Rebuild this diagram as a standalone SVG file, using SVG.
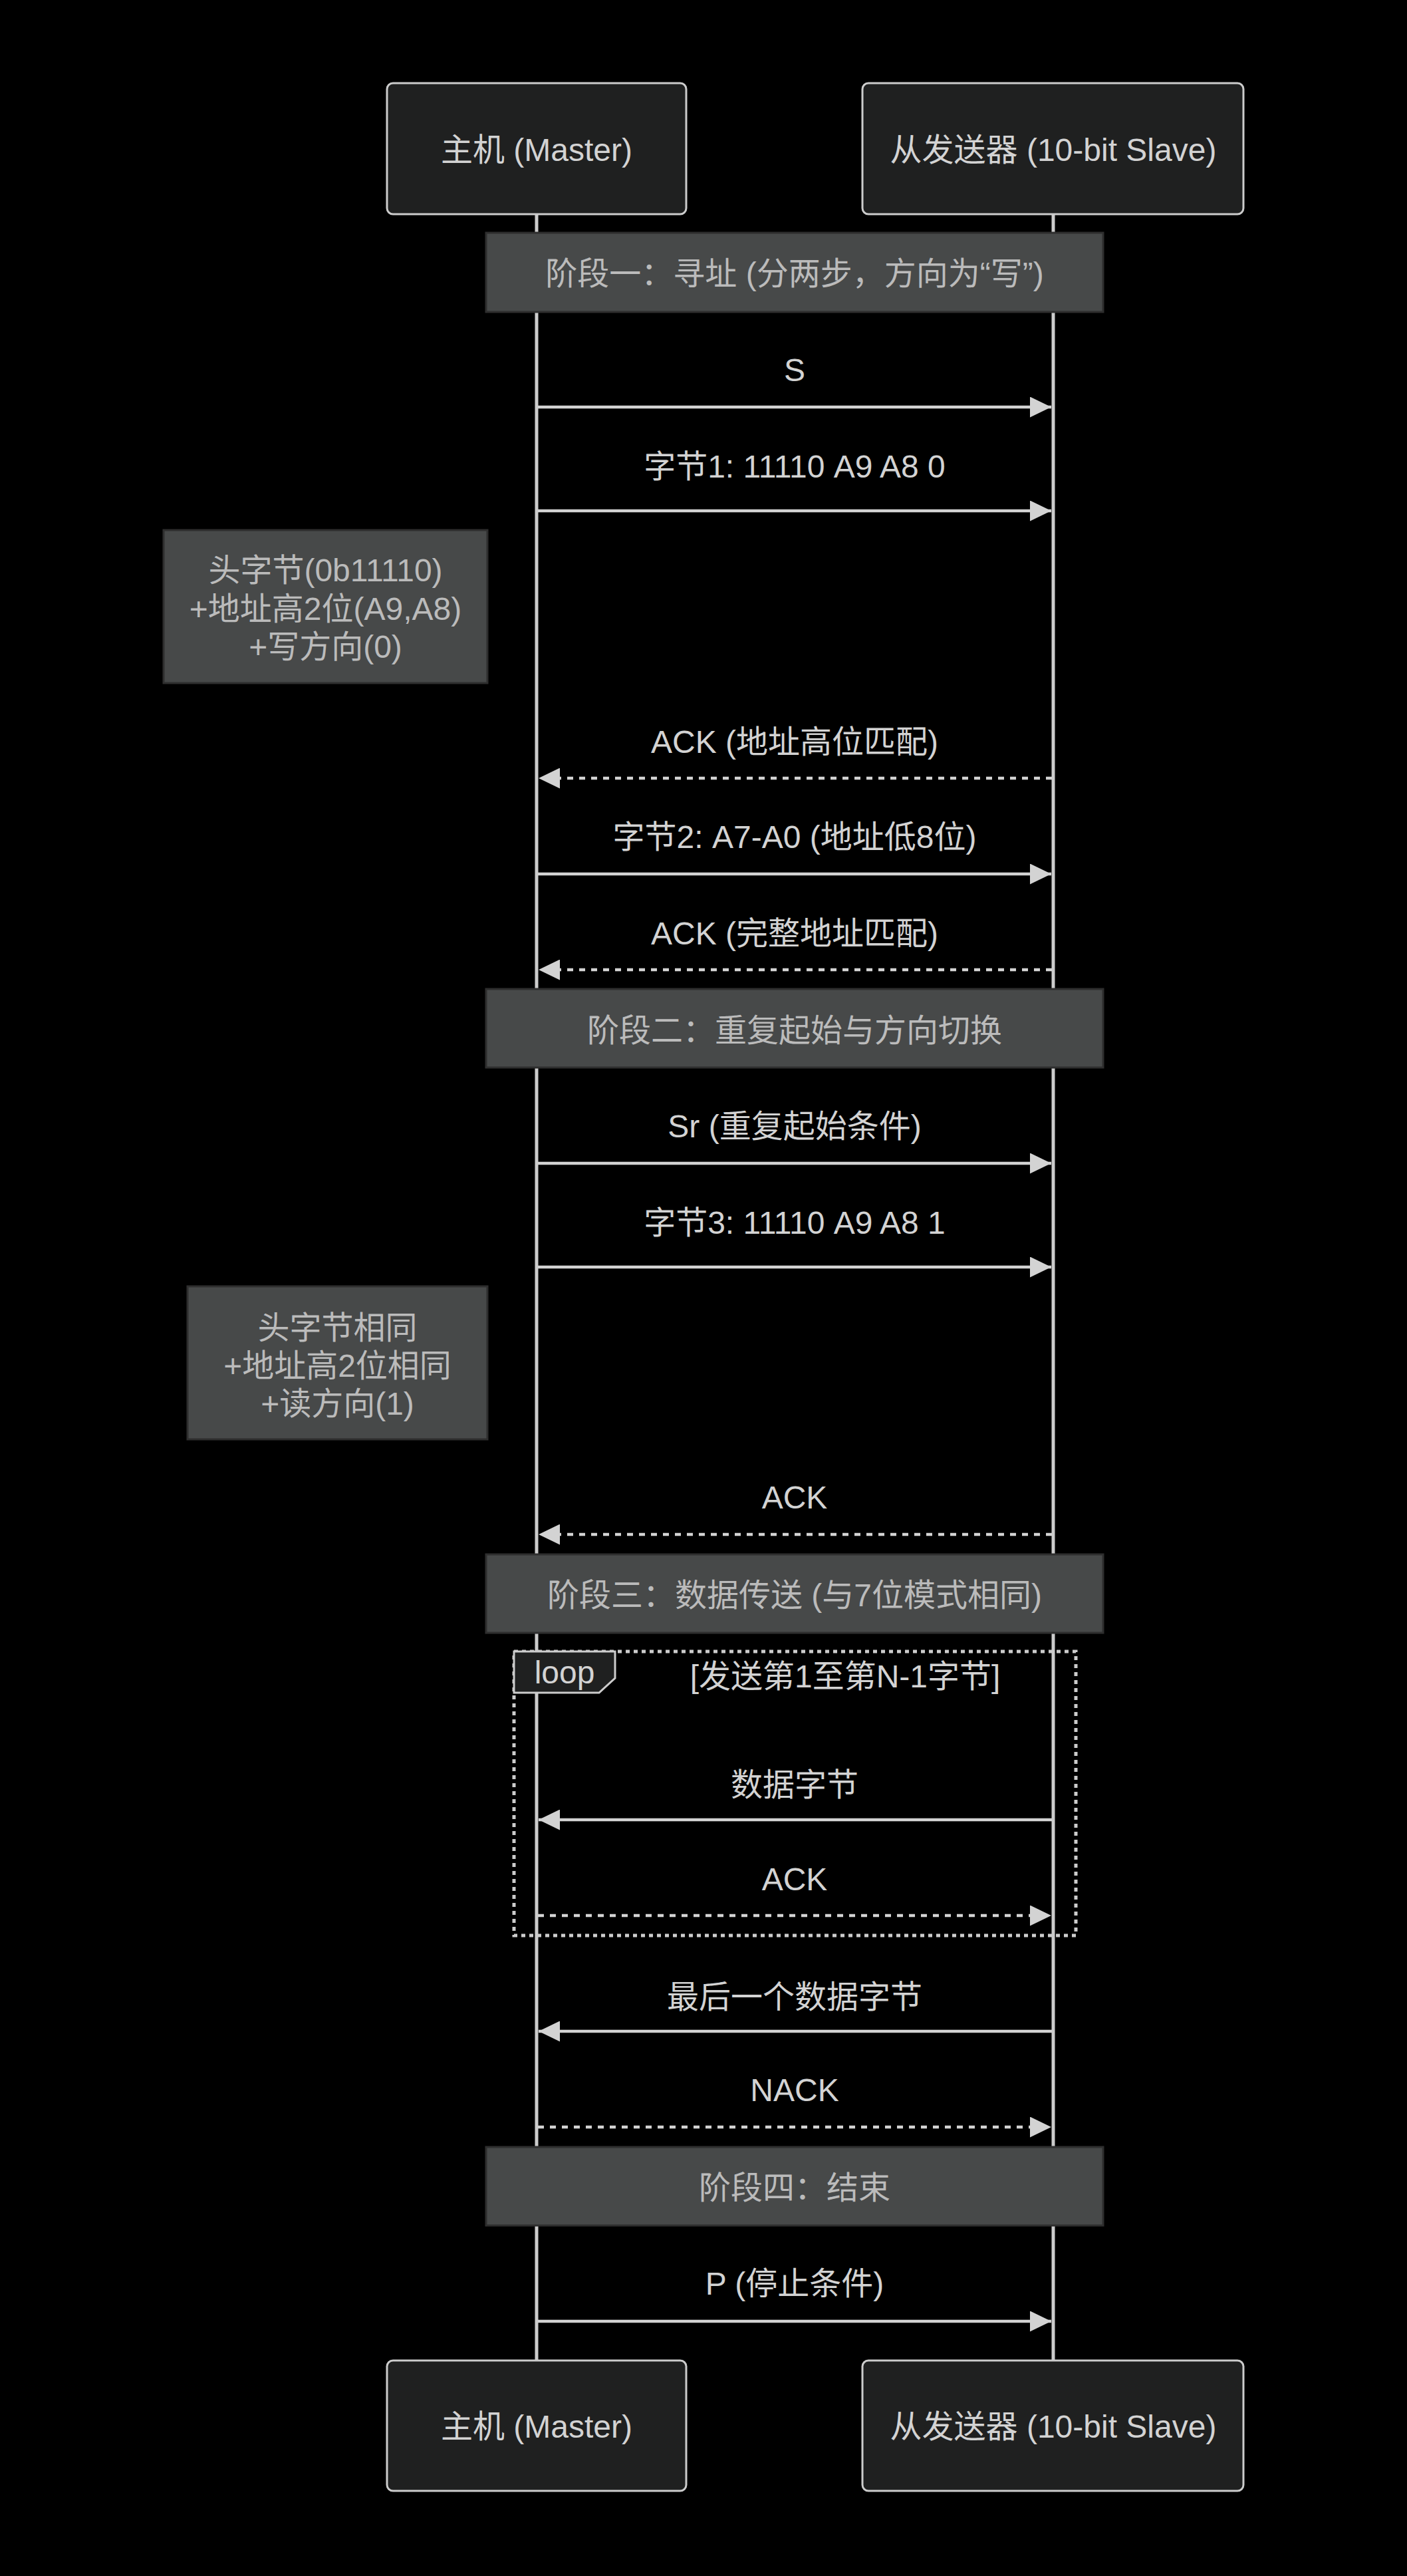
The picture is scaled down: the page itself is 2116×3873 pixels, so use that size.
<svg xmlns="http://www.w3.org/2000/svg" width="2116" height="3873" viewBox="0 0 2116 3873">
<style>
text{font-family:"Trebuchet MS","Liberation Sans","Noto Sans CJK SC",sans-serif;font-size:48px;text-anchor:middle}
.actor rect{fill:#1f2020;stroke:#cccccc;stroke-width:3}
.actor text{fill:#d3d3d3}
.lifeline{stroke:#cccccc;stroke-width:5}
.note rect{fill:#474949;stroke:#2e2e2e;stroke-width:3}
.note text{fill:#bbbbbb}
.msg{stroke:#d3d3d3;stroke-width:4.5;fill:none}
.dotted{stroke-dasharray:9 9}
.msg-text{fill:#d3d3d3}
.loop-line{fill:none;stroke:#cccccc;stroke-width:5;stroke-dasharray:6 6}
.loop-label{fill:#1f2020;stroke:#cccccc;stroke-width:3}
.loop-text{fill:#d3d3d3}
</style>
<defs>
<marker id="arrow" markerUnits="userSpaceOnUse" markerWidth="32" markerHeight="31" refX="32" refY="15.5" orient="auto">
<path d="M0,0 L32,15.5 L0,31 Z" fill="#d3d3d3"/>
</marker>
</defs>
<rect x="0" y="0" width="2116" height="3873" fill="#000000"/>
<g id="lifelines">
<line class="lifeline" x1="807" y1="322" x2="807" y2="3549"/>
<line class="lifeline" x1="1584" y1="322" x2="1584" y2="3549"/>
</g>
<g id="actor-master-top" class="actor"><rect x="582" y="125" width="450" height="197" rx="9"/><text x="807" y="242">主机 (Master)</text></g>
<g id="actor-slave-top" class="actor"><rect x="1297" y="125" width="573" height="197" rx="9"/><text x="1584" y="242">从发送器 (10-bit Slave)</text></g>
<g id="actor-master-bottom" class="actor"><rect x="582" y="3549" width="450" height="196" rx="9"/><text x="807" y="3665">主机 (Master)</text></g>
<g id="actor-slave-bottom" class="actor"><rect x="1297" y="3549" width="573" height="196" rx="9"/><text x="1584" y="3665">从发送器 (10-bit Slave)</text></g>
<g id="note-phase1" class="note"><rect x="731" y="350" width="928" height="119"/><text x="1195" y="428">阶段一：寻址 (分两步，方向为“写”)</text></g>
<g id="note-header1" class="note"><rect x="246" y="797" width="487" height="230"/><text x="489.5" y="874">头字节(0b11110)</text><text x="489.5" y="932">+地址高2位(A9,A8)</text><text x="489.5" y="989">+写方向(0)</text></g>
<g id="note-phase2" class="note"><rect x="731" y="1487" width="928" height="118"/><text x="1195" y="1566">阶段二：重复起始与方向切换</text></g>
<g id="note-header2" class="note"><rect x="282" y="1934" width="451" height="230"/><text x="507.5" y="2013">头字节相同</text><text x="507.5" y="2070">+地址高2位相同</text><text x="507.5" y="2127">+读方向(1)</text></g>
<g id="note-phase3" class="note"><rect x="731" y="2337" width="928" height="118"/><text x="1195" y="2415">阶段三：数据传送 (与7位模式相同)</text></g>
<g id="note-phase4" class="note"><rect x="731" y="3228" width="928" height="118"/><text x="1195" y="3306">阶段四：结束</text></g>
<g id="loop">
<rect class="loop-line" x="773" y="2483" width="845" height="427"/>
<polygon class="loop-label" points="773,2483 925,2483 925,2523 901,2545 773,2545"/>
<text class="loop-text" x="849" y="2531">loop</text>
<text class="loop-text" x="1271" y="2537">[发送第1至第N-1字节]</text>
</g>
<g id="connectors">
<text class="msg-text" x="1195" y="573">S</text>
<line class="msg" x1="809" y1="612" x2="1581" y2="612" marker-end="url(#arrow)"/>
<text class="msg-text" x="1195" y="718">字节1: 11110 A9 A8 0</text>
<line class="msg" x1="809" y1="768" x2="1581" y2="768" marker-end="url(#arrow)"/>
<text class="msg-text" x="1195" y="1132">ACK (地址高位匹配)</text>
<line class="msg dotted" x1="1582" y1="1170" x2="810" y2="1170" marker-end="url(#arrow)"/>
<text class="msg-text" x="1195" y="1275">字节2: A7-A0 (地址低8位)</text>
<line class="msg" x1="809" y1="1314" x2="1581" y2="1314" marker-end="url(#arrow)"/>
<text class="msg-text" x="1195" y="1420">ACK (完整地址匹配)</text>
<line class="msg dotted" x1="1582" y1="1458" x2="810" y2="1458" marker-end="url(#arrow)"/>
<text class="msg-text" x="1195" y="1710">Sr (重复起始条件)</text>
<line class="msg" x1="809" y1="1749" x2="1581" y2="1749" marker-end="url(#arrow)"/>
<text class="msg-text" x="1195" y="1855">字节3: 11110 A9 A8 1</text>
<line class="msg" x1="809" y1="1905" x2="1581" y2="1905" marker-end="url(#arrow)"/>
<text class="msg-text" x="1195" y="2268">ACK</text>
<line class="msg dotted" x1="1582" y1="2307" x2="810" y2="2307" marker-end="url(#arrow)"/>
<text class="msg-text" x="1195" y="2700">数据字节</text>
<line class="msg" x1="1582" y1="2736" x2="810" y2="2736" marker-end="url(#arrow)"/>
<text class="msg-text" x="1195" y="2842">ACK</text>
<line class="msg dotted" x1="809" y1="2880" x2="1581" y2="2880" marker-end="url(#arrow)"/>
<text class="msg-text" x="1195" y="3019">最后一个数据字节</text>
<line class="msg" x1="1582" y1="3054" x2="810" y2="3054" marker-end="url(#arrow)"/>
<text class="msg-text" x="1195" y="3159">NACK</text>
<line class="msg dotted" x1="809" y1="3198" x2="1581" y2="3198" marker-end="url(#arrow)"/>
<text class="msg-text" x="1195" y="3450">P (停止条件)</text>
<line class="msg" x1="809" y1="3490" x2="1581" y2="3490" marker-end="url(#arrow)"/>
</g>
</svg>
